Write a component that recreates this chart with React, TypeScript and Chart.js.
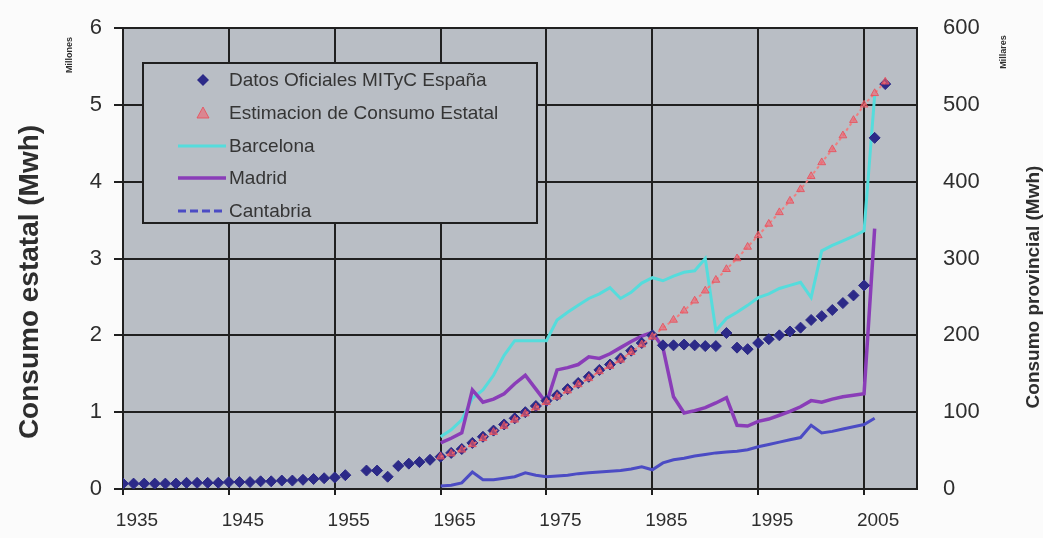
import React, { useEffect, useRef } from "react";
import { Chart, registerables } from "chart.js";

Chart.register(...registerables);

// ---- Data ----
const xTickYears = [1935, 1945, 1955, 1965, 1975, 1985, 1995, 2005];

const officialYears = [
  1935, 1936, 1937, 1938, 1939, 1940, 1941, 1942, 1943, 1944, 1945, 1946, 1947, 1948, 1949, 1950,
  1951, 1952, 1953, 1954, 1955, 1956, 1958, 1959, 1960, 1961, 1962, 1963, 1964, 1965, 1966, 1967,
  1968, 1969, 1970, 1971, 1972, 1973, 1974, 1975, 1976, 1977, 1978, 1979, 1980, 1981, 1982, 1983,
  1984, 1985, 1986, 1987, 1988, 1989, 1990, 1991, 1992, 1993, 1994, 1995, 1996, 1997, 1998, 1999,
  2000, 2001, 2002, 2003, 2004, 2005, 2006, 2007,
];
const officialValues = [
  0.07, 0.07, 0.07, 0.07, 0.07, 0.07, 0.08, 0.08, 0.08, 0.08, 0.09, 0.09, 0.09, 0.1, 0.1, 0.11,
  0.11, 0.12, 0.13, 0.14, 0.15, 0.18, 0.24, 0.24, 0.16, 0.3, 0.33, 0.35, 0.38, 0.42, 0.47, 0.52,
  0.6, 0.68, 0.76, 0.84, 0.92, 1.0, 1.08, 1.15, 1.22, 1.3, 1.38, 1.46, 1.55, 1.62, 1.7, 1.8,
  1.9, 2.0, 1.87, 1.87, 1.88, 1.87, 1.86, 1.86, 2.03, 1.84, 1.82, 1.9, 1.95, 2.0, 2.05, 2.1,
  2.2, 2.25, 2.33, 2.42, 2.52, 2.65, 4.57, 5.27,
];

const estimateYears = [
  1965, 1966, 1967, 1968, 1969, 1970, 1971, 1972, 1973, 1974, 1975, 1976, 1977, 1978, 1979, 1980,
  1981, 1982, 1983, 1984, 1985, 1986, 1987, 1988, 1989, 1990, 1991, 1992, 1993, 1994, 1995, 1996,
  1997, 1998, 1999, 2000, 2001, 2002, 2003, 2004, 2005, 2006, 2007,
];
const estimateValues = [
  0.42, 0.46, 0.51, 0.58, 0.66, 0.74, 0.82, 0.9, 0.98, 1.06, 1.13, 1.2, 1.28, 1.36, 1.44, 1.53,
  1.6, 1.68, 1.78, 1.88, 1.98, 2.1, 2.2, 2.32, 2.45, 2.58, 2.72, 2.86, 3.0, 3.15, 3.3, 3.45,
  3.6, 3.75, 3.9, 4.07, 4.25, 4.42, 4.6, 4.8, 5.0, 5.15, 5.3,
];

const provinceYears = [
  1965, 1966, 1967, 1968, 1969, 1970, 1971, 1972, 1973, 1974, 1975, 1976, 1977, 1978, 1979, 1980,
  1981, 1982, 1983, 1984, 1985, 1986, 1987, 1988, 1989, 1990, 1991, 1992, 1993, 1994, 1995, 1996,
  1997, 1998, 1999, 2000, 2001, 2002, 2003, 2004, 2005, 2006,
];
const barcelonaValues = [
  68, 77, 90, 118, 129, 148, 174, 193, 193, 193, 193, 220, 230, 239, 248, 254,
  262, 248, 256, 268, 275, 271, 277, 282, 284, 300, 206, 222, 230, 239, 249, 254,
  261, 265, 269, 249, 310, 317, 323, 329, 336, 512,
];
const madridValues = [
  60, 66, 73, 129, 113, 117, 124, 137, 148, 130, 112, 155, 158, 162, 172, 170,
  176, 184, 192, 199, 204, 184, 120, 99, 102, 106, 112, 119, 83, 82, 88, 91,
  96, 101, 107, 115, 113, 117, 120, 122, 124, 339,
];
const cantabriaValues = [
  4, 5, 8, 22, 12, 12, 14, 16, 21, 18, 16, 17, 18, 20, 21, 22,
  23, 24, 26, 29, 25, 34, 38, 40, 43, 45, 47, 48, 49, 51, 55, 58,
  61, 64, 67, 83, 73, 75, 78, 81, 84, 92,
];

const seriesNames = [
  "Datos Oficiales MITyC España",
  "Estimacion de Consumo Estatal",
  "Barcelona",
  "Madrid",
  "Cantabria",
];

// ---- Styles ----
const PLOT_BG = "#b9bec5";
const GRID = "#202020";
const TEXT = "#2e2e2e";
const NAVY = "#2c2a88";
const RED_FILL = "rgba(240,96,110,0.6)";
const RED_LINE = "rgba(232,80,92,0.85)";
const RED_DOT = "rgba(245,120,120,0.9)";
const CYAN = "#55dcdc";
const PURPLE = "#8a3db8";
const BLUE = "#4b4bc4";
const FONT = "'Liberation Sans', Arial, sans-serif";

const pts = (xs: number[], ys: number[]) => xs.map((x, i) => ({ x, y: ys[i] }));

const decorPlugin = {
  id: "decor",
  beforeDraw(chart: any) {
    const { ctx, chartArea } = chart;
    ctx.save();
    ctx.fillStyle = "#fbfbfb";
    ctx.fillRect(0, 0, chart.width, chart.height);
    ctx.fillStyle = PLOT_BG;
    ctx.fillRect(chartArea.left, chartArea.top, chartArea.right - chartArea.left, chartArea.bottom - chartArea.top);
    ctx.restore();
  },
  beforeDatasetsDraw(chart: any) {
    const { ctx } = chart;
    ctx.save();
    // legend box
    const bx = 143, by = 63, bw = 394, bh = 160;
    ctx.fillStyle = PLOT_BG;
    ctx.fillRect(bx, by, bw, bh);
    ctx.strokeStyle = GRID;
    ctx.lineWidth = 2;
    ctx.strokeRect(bx, by, bw, bh);

    const rows = [80, 113, 146, 178, 211];
    const mx = 203;
    // row 1: diamond
    ctx.fillStyle = NAVY;
    ctx.beginPath();
    ctx.moveTo(mx, rows[0] - 6);
    ctx.lineTo(mx + 6, rows[0]);
    ctx.lineTo(mx, rows[0] + 6);
    ctx.lineTo(mx - 6, rows[0]);
    ctx.closePath();
    ctx.fill();
    // row 2: triangle
    ctx.fillStyle = RED_FILL;
    ctx.strokeStyle = RED_LINE;
    ctx.lineWidth = 1;
    ctx.beginPath();
    ctx.moveTo(mx, rows[1] - 6);
    ctx.lineTo(mx + 6, rows[1] + 5);
    ctx.lineTo(mx - 6, rows[1] + 5);
    ctx.closePath();
    ctx.fill();
    ctx.stroke();
    // rows 3-5: lines
    const lineRow = (y: number, color: string, w: number, dash: number[]) => {
      ctx.strokeStyle = color;
      ctx.lineWidth = w;
      ctx.setLineDash(dash);
      ctx.beginPath();
      ctx.moveTo(178, y);
      ctx.lineTo(226, y);
      ctx.stroke();
      ctx.setLineDash([]);
    };
    lineRow(rows[2], CYAN, 3, []);
    lineRow(rows[3], PURPLE, 3.5, []);
    lineRow(rows[4], BLUE, 3, [8, 4]);

    ctx.fillStyle = "#353535";
    ctx.font = `19px ${FONT}`;
    ctx.textBaseline = "middle";
    ctx.textAlign = "left";
    seriesNames.forEach((n, i) => ctx.fillText(n, 229, rows[i] + 1));

    ctx.restore();
  },
  afterDraw(chart: any) {
    const { ctx } = chart;
    ctx.save();
    ctx.fillStyle = TEXT;
    ctx.textAlign = "center";
    ctx.textBaseline = "middle";
    const vtext = (t: string, x: number, y: number, font: string) => {
      ctx.save();
      ctx.translate(x, y);
      ctx.rotate(-Math.PI / 2);
      ctx.font = font;
      ctx.fillText(t, 0, 0);
      ctx.restore();
    };
    vtext("Consumo estatal (Mwh)", 30, 282, `bold 28px ${FONT}`);
    vtext("Consumo provincial (Mwh)", 1034, 287, `bold 19px ${FONT}`);
    vtext("Millones", 70, 55, `bold 9px ${FONT}`);
    vtext("Millares", 1004, 52, `bold 9px ${FONT}`);
    ctx.restore();
  },
};

export default function App() {
  const ref = useRef<HTMLCanvasElement | null>(null);

  useEffect(() => {
    if (!ref.current) return;
    const chart = new Chart(ref.current, {
      type: "scatter",
      data: {
        datasets: [
          {
            label: seriesNames[0],
            data: pts(officialYears, officialValues),
            yAxisID: "y",
            showLine: false,
            pointStyle: "rectRot",
            pointRadius: 5.5,
            backgroundColor: NAVY,
            borderColor: NAVY,
            borderWidth: 1,
            order: 1,
          },
          {
            label: seriesNames[1],
            data: pts(estimateYears, estimateValues),
            yAxisID: "y",
            showLine: true,
            borderDash: [3, 3],
            pointStyle: "triangle",
            pointRadius: 4.5,
            pointBackgroundColor: RED_FILL,
            pointBorderColor: RED_LINE,
            pointBorderWidth: 1,
            borderColor: RED_DOT,
            borderWidth: 2,
            order: 0,
          },
          {
            label: seriesNames[2],
            data: pts(provinceYears, barcelonaValues),
            yAxisID: "y2",
            showLine: true,
            pointRadius: 0,
            borderColor: CYAN,
            backgroundColor: CYAN,
            borderWidth: 3,
            tension: 0,
            order: 4,
          },
          {
            label: seriesNames[3],
            data: pts(provinceYears, madridValues),
            yAxisID: "y2",
            showLine: true,
            pointRadius: 0,
            borderColor: PURPLE,
            backgroundColor: PURPLE,
            borderWidth: 3.5,
            tension: 0,
            order: 3,
          },
          {
            label: seriesNames[4],
            data: pts(provinceYears, cantabriaValues),
            yAxisID: "y2",
            showLine: true,
            pointRadius: 0,
            borderColor: BLUE,
            backgroundColor: BLUE,
            borderWidth: 3,
            tension: 0,
            order: 2,
          },
        ],
      },
      options: {
        responsive: false,
        animation: false,
        layout: { padding: { top: 28, left: 0, right: 0, bottom: 0 } },
        plugins: {
          legend: { display: false },
          tooltip: { enabled: false },
        },
        scales: {
          x: {
            type: "linear",
            min: 1935,
            max: 2010,
            afterBuildTicks: (s: any) => {
              s.ticks = xTickYears.map((v) => ({ value: v }));
            },
            afterFit: (s: any) => {
              s.height = 49;
              s.paddingLeft = 0;
              s.paddingRight = 0;
            },
            grid: { color: GRID, lineWidth: 2, tickLength: 6, tickColor: GRID },
            border: { color: GRID, width: 2 },
            ticks: {
              color: TEXT,
              font: { family: FONT, size: 19 },
              padding: 14,
              labelOffset: 14,
              maxRotation: 0,
              autoSkip: false,
              callback: (v: any) => String(v),
            },
          },
          y: {
            position: "left",
            min: 0,
            max: 6,
            afterFit: (s: any) => {
              s.width = 123;
              s.paddingTop = 0;
              s.paddingBottom = 0;
            },
            grid: { color: GRID, lineWidth: 2, tickLength: 9, tickColor: GRID },
            border: { color: GRID, width: 2 },
            ticks: {
              stepSize: 1,
              color: TEXT,
              font: { family: FONT, size: 22 },
              padding: 12,
            },
          },
          y2: {
            position: "right",
            min: 0,
            max: 600,
            afterFit: (s: any) => {
              s.width = 126;
              s.paddingTop = 0;
              s.paddingBottom = 0;
            },
            grid: { display: false, drawTicks: false },
            border: { color: GRID, width: 2 },
            ticks: {
              stepSize: 100,
              color: TEXT,
              font: { family: FONT, size: 22 },
              padding: 26,
            },
          },
        },
      },
      plugins: [decorPlugin],
    });
    return () => chart.destroy();
  }, []);

  return (
    <div style={{ position: "fixed", left: 0, top: 0, width: 1043, height: 538 }}>
      <canvas ref={ref} width={1043} height={538} style={{ width: 1043, height: 538 }} />
    </div>
  );
}
